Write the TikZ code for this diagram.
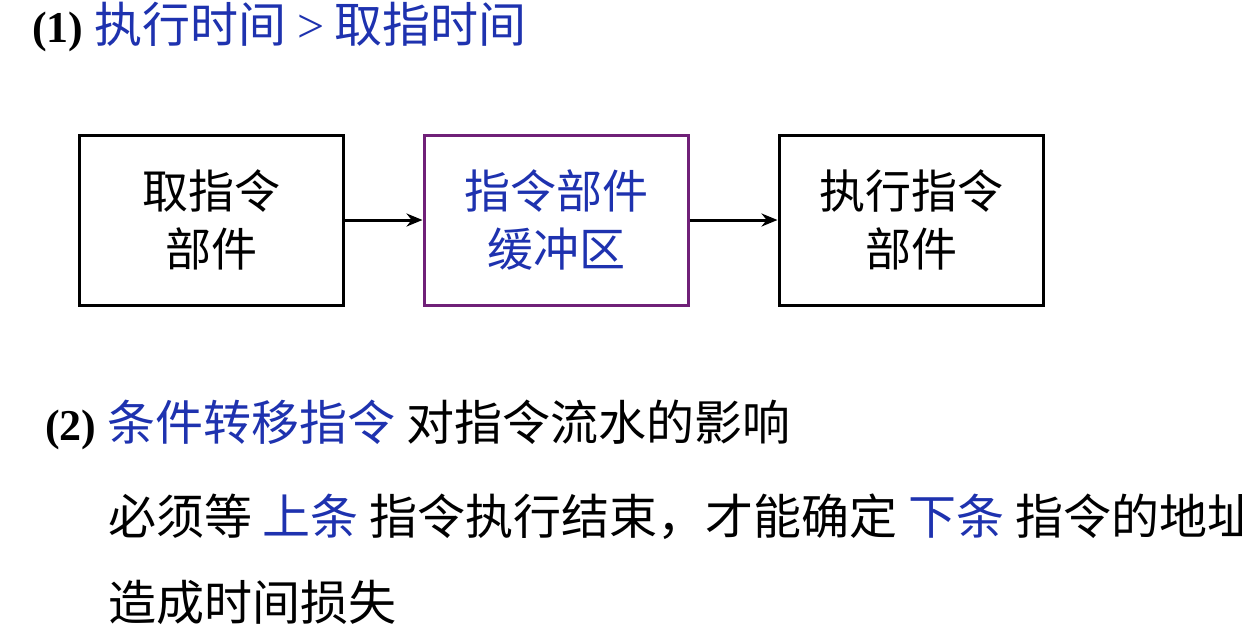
\documentclass[tikz,border=0pt]{standalone}
\usepackage{fontspec}
\setmainfont{Liberation Serif}
\newfontfamily\cjk{Noto Sans CJK SC}
\definecolor{tblue}{RGB}{30,50,175}
\definecolor{tpurple}{RGB}{112,32,120}
\usetikzlibrary{arrows.meta}
\tikzset{
  blk/.style={draw=black,line width=3pt,minimum width=264pt,minimum height=170pt,align=center,font=\cjk\fontsize{46}{58}\selectfont,inner sep=0pt},
  arr/.style={-{Stealth[length=16pt,width=13pt]},line width=3pt},
  txt/.style={anchor=base west,inner sep=0pt,font=\cjk\fontsize{48}{52}\selectfont}
}
\begin{document}
\begin{tikzpicture}[x=1pt,y=-1pt]
\useasboundingbox (0,0) rectangle (1242,633);
\clip (0,0) rectangle (1242,633);
\fill[white] (0,0) rectangle (1242,633);
\node[txt] (t1) at (32,42) {{\rmfamily\bfseries\fontsize{44}{48}\selectfont (1)} \textcolor{tblue}{执行时间 {\rmfamily >} 取指时间}};
\node[blk] (b1) at (211,220) {取指令\\部件};
\node[blk,draw=tpurple,text=tblue] (b2) at (556,220) {指令部件\\缓冲区};
\node[blk] (b3) at (911,220) {执行指令\\部件};
\draw[arr] (b1) -- (b2);
\draw[arr] (b2) -- (b3);
\node[txt] (t2) at (45,440) {{\rmfamily\bfseries\fontsize{44}{48}\selectfont (2)} \textcolor{tblue}{条件转移指令} 对指令流水的影响};
\node[txt] (t3) at (108,534) {必须等 \textcolor{tblue}{上条} 指令执行结束，才能确定 \textcolor{tblue}{下条} 指令的地址};
\node[txt] (t4) at (108,620) {造成时间损失};
\end{tikzpicture}
\end{document}
